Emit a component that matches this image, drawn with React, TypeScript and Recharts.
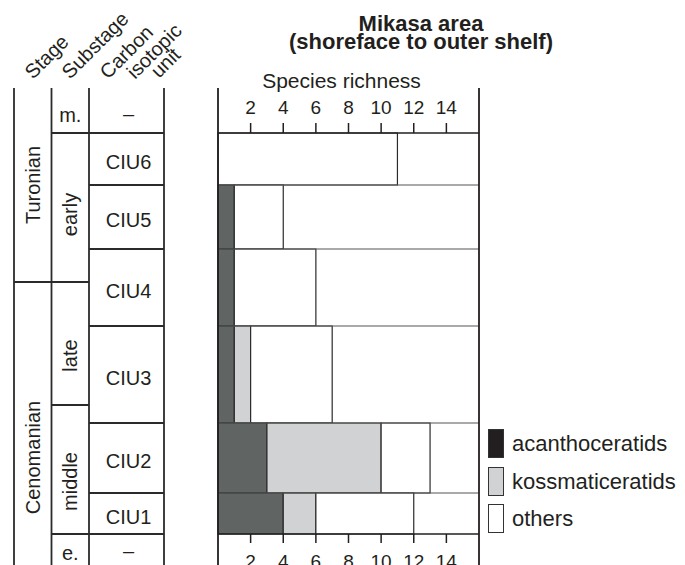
import React from "react";
import { ComposedChart, XAxis, YAxis, Scatter, ReferenceArea, ReferenceLine, Label } from "recharts";

const FONT = '"Liberation Sans", Arial, Helvetica, sans-serif';
const INK = "#231f20";

// carbon isotopic units, top to base, with their extent in the column
const units = ["CIU6", "CIU5", "CIU4", "CIU3", "CIU2", "CIU1"];
const unitTop = [45, 97, 161, 238, 335, 405];
const unitBase = [97, 161, 238, 335, 405, 446];

// species richness per unit
const acanthoceratids = [0, 1, 1, 1, 3, 4];
const kossmaticeratids = [0, 0, 0, 1, 7, 2];
const others = [11, 3, 5, 5, 3, 6];

const richnessTicks = [2, 4, 6, 8, 10, 12, 14];

const stageNames = ["Turonian", "Cenomanian"];
const stageTop = [0, 194];
const stageBase = [194, 545];

const substageNames = ["m.", "early", "late", "middle", "e."];
const substageTop = [0, 45, 194, 317, 446];
const substageBase = [45, 194, 317, 446, 545];

const ciuNames = ["–", ...units, "–"];
const ciuTop = [0, ...unitTop, 446];
const ciuBase = [45, ...unitBase, 545];

const legendNames = ["acanthoceratids", "kossmaticeratids", "others"];
const legendFills = [INK, "#d1d2d4", "#ffffff"];
const barFills = ["#606563", "#d1d2d4", "#ffffff"];

// small nudges so the names sit like in the figure
const labelShift: Record<string, number> = { early: 7, late: 12, middle: 12, "m.": 4 };

const rows = units.map((u, i) => ({
  unit: u,
  total: acanthoceratids[i] + kossmaticeratids[i] + others[i],
  mid: (unitTop[i] + unitBase[i]) / 2,
}));

const ciuCells = ciuNames.map((n, i) => ({ name: n, col: 3, mid: (ciuTop[i] + ciuBase[i]) / 2 }));

const Nothing = () => <g />;

function StratColumn() {
  const cols = [
    { x1: 0, x2: 1, names: stageNames, top: stageTop, base: stageBase },
    { x1: 1, x2: 2, names: substageNames, top: substageTop, base: substageBase },
    { x1: 2, x2: 4, names: ciuNames, top: ciuTop, base: ciuBase },
  ];
  const lineStyle = { stroke: "#2b2b2b", strokeWidth: 1.8 };

  return (
    <ComposedChart width={200} height={650} margin={{ top: 88, right: 36, bottom: 17, left: 14 }}>
      <XAxis xAxisId="c" dataKey="col" type="number" domain={[0, 4]} hide />
      <YAxis yAxisId="d" dataKey="mid" type="number" domain={[0, 545]} reversed hide />
      <Scatter xAxisId="c" yAxisId="d" data={ciuCells} shape={<Nothing />} isAnimationActive={false} />
      {cols.map((col, ci) =>
        col.names.map((name, i) => {
          const rotate = ci < 2 && name.length > 2;
          // the lowest row runs off the page, so its name hangs from the top
          const openBase = ci > 0 && i === col.names.length - 1;
          const shift = (labelShift[name] || 0) + (ci === 2 && !openBase ? 3 : 0);
          return (
            <ReferenceArea
              key={`a${ci}-${i}`}
              xAxisId="c"
              yAxisId="d"
              x1={col.x1}
              x2={col.x2}
              y1={col.top[i]}
              y2={col.base[i]}
              fill="none"
              stroke="none"
            >
              <Label
                value={name}
                position={openBase ? "insideTop" : "center"}
                offset={openBase ? (ci === 2 ? 10 : 12) : 5}
                angle={rotate ? -90 : 0}
                dx={ci === 2 ? 2 : 0}
                dy={openBase ? 0 : shift}
                fontSize={20}
                fontFamily={FONT}
                fill={INK}
              />
            </ReferenceArea>
          );
        })
      )}
      {[0, 1, 2, 4].map((x) => (
        <ReferenceLine
          key={`v${x}`}
          xAxisId="c"
          yAxisId="d"
          segment={[{ x, y: 0 }, { x, y: 545 }]}
          {...lineStyle}
        />
      ))}
      {cols.map((col, ci) =>
        col.base.slice(0, -1).map((b, i) => (
          <ReferenceLine
            key={`h${ci}-${i}`}
            xAxisId="c"
            yAxisId="d"
            segment={[{ x: col.x1, y: b }, { x: col.x2, y: b }]}
            {...lineStyle}
          />
        ))
      )}
    </ComposedChart>
  );
}

function RichnessChart() {
  const tickStyle = { fontSize: 19, fill: INK, fontFamily: FONT };
  return (
    <ComposedChart width={685} height={600} margin={{ top: 88, right: 206, bottom: 26, left: 218 }}>
      <XAxis
        xAxisId="top"
        dataKey="total"
        orientation="top"
        type="number"
        domain={[0, 16]}
        ticks={richnessTicks}
        height={45}
        tickSize={10}
        tickMargin={9}
        tick={tickStyle}
        axisLine={{ stroke: INK, strokeWidth: 1.5 }}
        tickLine={{ stroke: INK, strokeWidth: 1.5 }}
      >
        <Label value="Species richness" position="top" offset={0} dx={-7} fontSize={21} fontFamily={FONT} fill={INK} />
      </XAxis>
      <XAxis
        xAxisId="bottom"
        dataKey="total"
        orientation="bottom"
        type="number"
        domain={[0, 16]}
        ticks={richnessTicks}
        height={40}
        tickSize={9}
        tickMargin={12}
        tick={tickStyle}
        axisLine={{ stroke: INK, strokeWidth: 1.5 }}
        tickLine={{ stroke: INK, strokeWidth: 1.5 }}
      />
      <YAxis yAxisId="d" dataKey="mid" type="number" domain={[45, 446]} reversed hide />
      <Scatter xAxisId="top" yAxisId="d" data={rows} shape={<Nothing />} isAnimationActive={false} />
      <Scatter xAxisId="bottom" yAxisId="d" data={rows} shape={<Nothing />} isAnimationActive={false} />
      {unitBase.slice(0, -1).map((b) => (
        <ReferenceLine key={`r${b}`} xAxisId="top" yAxisId="d" y={b} stroke="#555" strokeWidth={1.2} />
      ))}
      {units.map((u, i) => {
        const parts = [acanthoceratids[i], kossmaticeratids[i], others[i]];
        let start = 0;
        return parts.map((v, k) => {
          const x1 = start;
          start += v;
          if (v === 0) return null;
          return (
            <ReferenceArea
              key={`${u}-${k}`}
              xAxisId="top"
              yAxisId="d"
              x1={x1}
              x2={x1 + v}
              y1={unitTop[i]}
              y2={unitBase[i]}
              fill={barFills[k]}
              fillOpacity={1}
              stroke="#2b2b2b"
              strokeWidth={1.2}
            />
          );
        });
      })}
      {[0, 16].map((x) => (
        <ReferenceLine
          key={`b${x}`}
          xAxisId="top"
          yAxisId="d"
          segment={[{ x, y: 0 }, { x, y: 560 }]}
          ifOverflow="visible"
          stroke={INK}
          strokeWidth={1.8}
        />
      ))}
    </ComposedChart>
  );
}

export default function App() {
  const headers = [
    { text: "Stage", x: 33, y: 80 },
    { text: "Substage", x: 70, y: 80 },
    { text: "Carbon", x: 108, y: 80 },
    { text: "isotopic", x: 135, y: 80 },
    { text: "unit", x: 159, y: 79 },
  ];
  return (
    <div style={{ position: "relative", width: 685, height: 565, overflow: "hidden", background: "#fff", fontFamily: FONT }}>
      <style>{"body{margin:0}"}</style>
      <div style={{ position: "absolute", left: 0, top: 0 }}>
        <RichnessChart />
      </div>
      <div style={{ position: "absolute", left: 0, top: 0 }}>
        <StratColumn />
      </div>
      <svg width={210} height={90} style={{ position: "absolute", left: 0, top: 0 }}>
        {headers.map((h) => (
          <text
            key={h.text}
            x={h.x}
            y={h.y}
            transform={`rotate(-45 ${h.x} ${h.y})`}
            fontSize={20}
            fontFamily={FONT}
            fill={INK}
          >
            {h.text}
          </text>
        ))}
      </svg>
      <div style={{ position: "absolute", left: 271, top: 13, width: 300, textAlign: "center", fontSize: 22, lineHeight: "22px", fontWeight: 700, color: INK }}>
        Mikasa area
      </div>
      <div style={{ position: "absolute", left: 271, top: 31, width: 300, textAlign: "center", fontSize: 22, lineHeight: "22px", fontWeight: 700, color: INK }}>
        (shoreface to outer shelf)
      </div>
      {legendNames.map((name, i) => (
        <div key={name} style={{ position: "absolute", left: 488, top: [429, 467, 504][i], height: 29, display: "flex", alignItems: "center" }}>
          <div style={{ width: 14, height: 27, background: legendFills[i], border: "1.2px solid #333" }} />
          <span style={{ marginLeft: 8, fontSize: 22, color: INK, lineHeight: "29px" }}>{name}</span>
        </div>
      ))}
    </div>
  );
}
